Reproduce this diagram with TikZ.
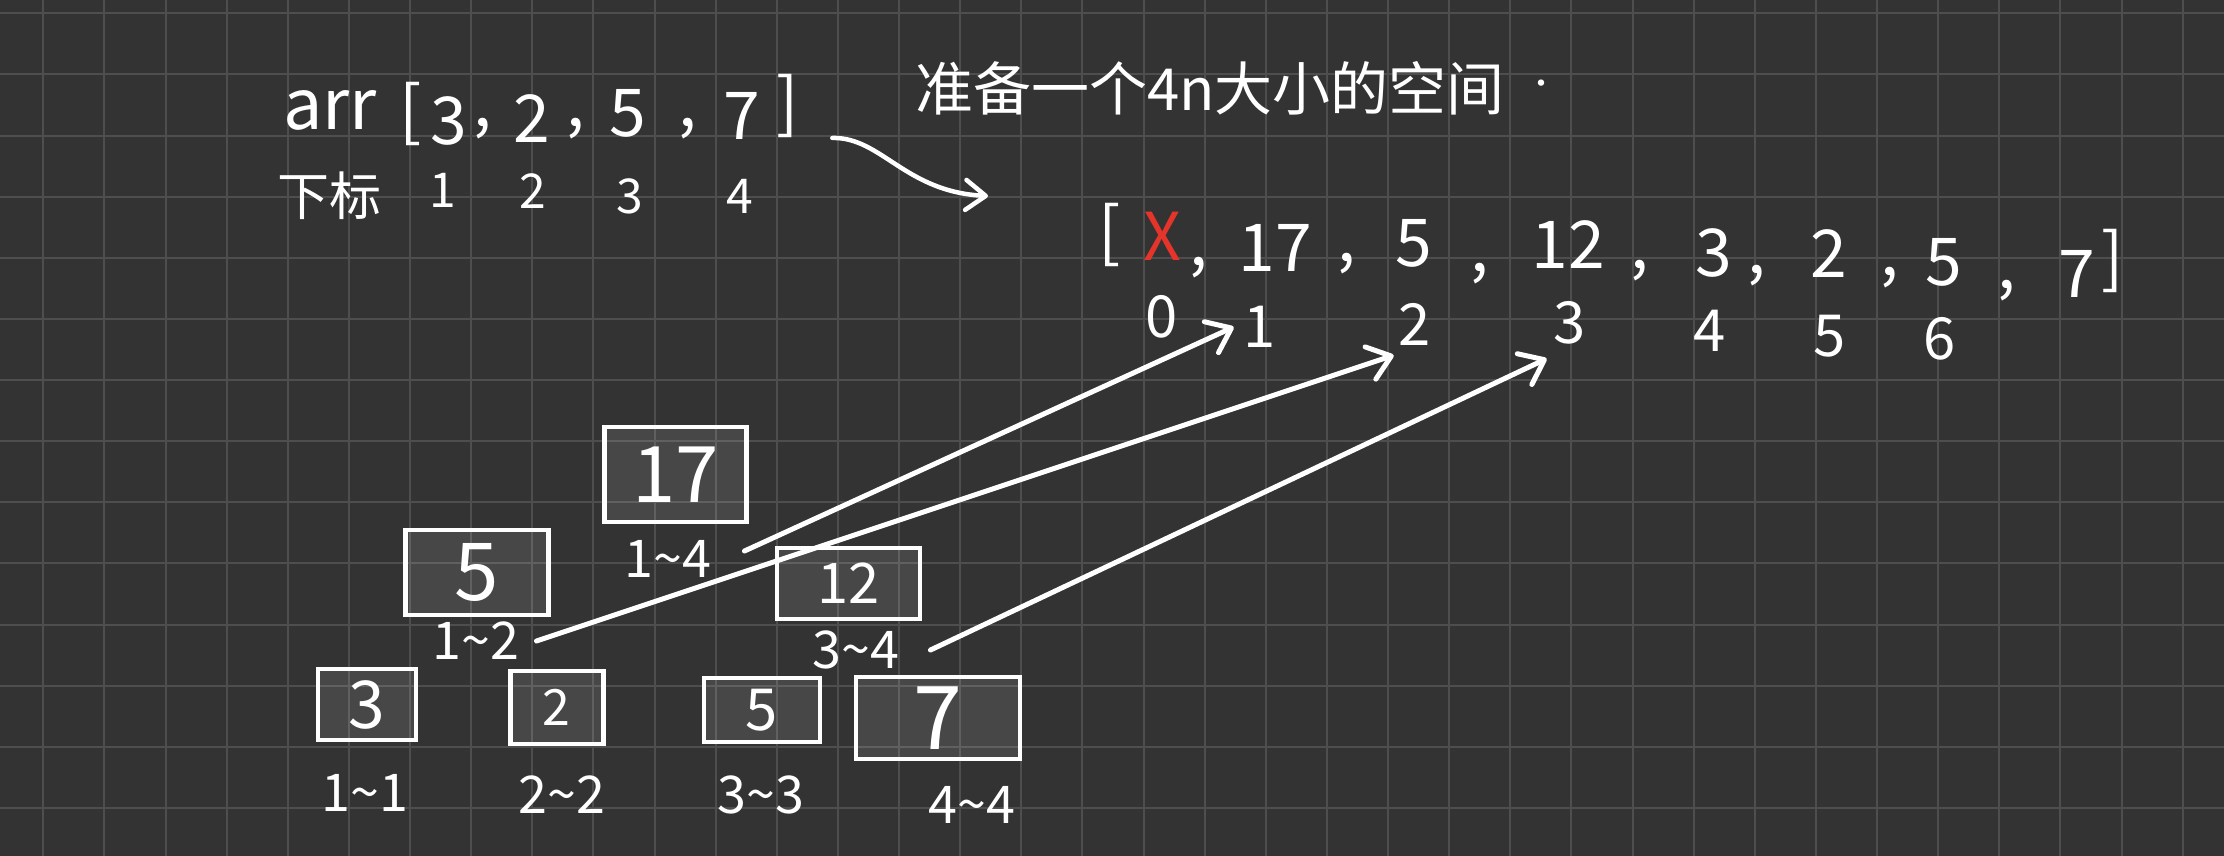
\documentclass[tikz,border=0pt]{standalone}
\usepackage{fontspec}
\setmainfont{Noto Sans CJK SC}
\usetikzlibrary{arrows.meta}
\definecolor{board}{HTML}{333333}
\definecolor{gridgray}{HTML}{4E4E4E}
\definecolor{chalkred}{HTML}{E5352B}
\begin{document}
\begin{tikzpicture}[x=1pt,y=-1pt,hand/.style={text=white,inner sep=0pt,font=\fontsize{#1}{#1}\selectfont},seg/.style={rectangle,draw=white,line width=4.5pt,fill=white,fill opacity=0.1,text opacity=1,inner sep=0pt},jump/.style={draw=white,line width=5pt,line cap=round,-{Straight Barb[length=22pt,width=34pt,round]}},gridline/.style={draw=gridgray,line width=2pt}]
\useasboundingbox (0,0) rectangle (2224,856);
\fill[board] (0,0) rectangle (2224,856);
\foreach \i in {0,...,35} \draw[gridline] ({43.3+61.126*\i},0) -- ({43.3+61.126*\i},856);
\foreach \j in {0,...,13} \draw[gridline] (0,{13.3+61.126*\j}) -- (2224,{13.3+61.126*\j});
\node[hand=70pt,anchor=base] (arr) at (330,129) {arr};
\node[hand=66pt] (lbtop) at (411,114) {[};
\foreach \x/\y/\t [count=\k] in {449/121/3,532/119/2,628/113/5,742/116/7} \node[hand=66pt] (a\k) at (\x,\y) {\t};
\foreach \x [count=\k] in {483,576,688} \node[hand=66pt,anchor=base] (ac\k) at (\x,127) {,};
\node[hand=66pt] (rb) at (788,106) {]};
\node[hand=52pt] (sub) at (329,196) {下标};
\foreach \x/\y [count=\k] in {442.5/190,533/191,630/196,740/196} \node[hand=48pt] (p\k) at (\x,\y) {\k};
\node[hand=58pt,anchor=west] (title) at (915,88) {准备一个4n大小的空间\hspace{22pt}\raisebox{16pt}{\fontsize{30pt}{30pt}\selectfont·}};
\coordinate (spacetip) at (988,196);
\draw[draw=white,line width=4.5pt,line cap=round,-{Straight Barb[length=20pt,width=30pt,round]}] ([xshift=33pt]rb.south east) .. controls +(49,-1) and +(-83,-4) .. (spacetip);
\node[hand=66pt] (lb) at (1110,235) {[};
\node[hand=66pt,text=chalkred] (v0) at (1162,236) {X};
\foreach \x/\y/\t [count=\k] in {1275/248/17,1414/243/5,1568/245/12,1714/253/3,1829/254/2,1944/262/5,2077/274/7} \node[hand=66pt] (v\k) at (\x,\y) {\t};
\foreach \x/\y [count=\k] in {1199/265,1347/261,1480/271,1640/268,1757/273,1890/275,2007/288} \node[hand=66pt,anchor=base] (vc\k) at (\x,\y) {,};
\node[hand=66pt] (rbend) at (2113,261) {]};
\foreach \x/\y [count=\k from 0] in {1162/317,1260/327,1415/324,1570/323,1710/331,1830/336,1940/339} \node[hand=58pt] (i\k) at (\x,\y) {\k};
\foreach \n/\x/\y/\w/\h/\f/\t in {s17/675.5/474.5/142/95/78/17,s5a/477/572.5/143/85/80/5,s12/848.5/583.5/143/71/56/12,s3/366.8/704.5/98/71/66/3,s2/556.8/707.5/93/73/50/2,s5b/762/710/116/64/58/5,s7/938/718/164/82/88/7} \node[seg,minimum width=\w pt,minimum height=\h pt,hand=\f pt] (\n) at (\x,\y) {\t};
\foreach \n/\x/\y/\a/\b in {r14/668/559/1/4,r12/476/641/1/2,r34/856/650/3/4,r11/365/793/1/1,r22/562/795/2/2,r33/761/795/3/3,r44/972/805/4/4} \node[hand=52pt] (\n) at (\x,\y) {\a\textasciitilde\b};
\draw[jump] ([shift={(33pt,8pt)}]r14.east) -- ([xshift=-10pt]i1.west);
\draw[jump] ([xshift=17pt]r12.east) -- ([shift={(-5pt,-10pt)}]i2.south west);
\draw[jump] ([xshift=31pt]r34.east) -- ([shift={(-7pt,-14pt)}]i3.south west);
\end{tikzpicture}
\end{document}
